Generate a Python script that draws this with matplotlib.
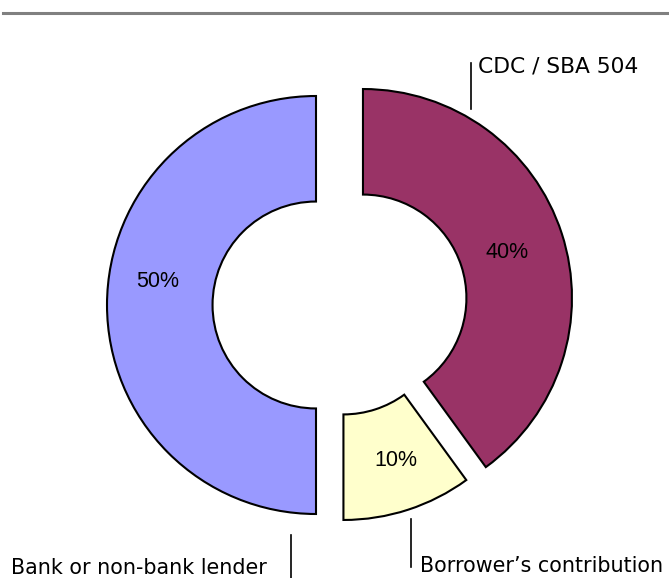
import matplotlib
matplotlib.use("Agg")
import matplotlib.pyplot as plt
from matplotlib.lines import Line2D

# slices, clockwise from 12 o'clock
names = ["CDC / SBA 504", "Borrower\u2019s contribution", "Bank or non-bank lender"]
shares = [40, 10, 50]
colors = ["#993366", "#FFFFCC", "#9999FF"]
explode = [0.108, 0.03, 0.122]
pct_labels = ["40%", "10%", "50%"]

W, H = 669, 578
fig = plt.figure(figsize=(W / 100, H / 100), dpi=100)
ax = fig.add_axes([0, 0, 1, 1])

wedges, _ = ax.pie(shares, colors=colors, explode=explode, startangle=90,
                   counterclock=False, radius=1.0,
                   wedgeprops=dict(width=0.505, edgecolor="black", linewidth=1.5))

# pixel geometry of the reference: centre at (341.5, 305), radius 209 px
R = 209.0
cx, cy = 341.5, 305.0
ax.set_xlim(-cx / R, (W - cx) / R)
ax.set_ylim(-(H - cy) / R, cy / R)
ax.set_aspect("auto")
ax.axis("off")


def px(x, y):
    # figure pixel (from top-left) -> figure fraction
    return x / W, 1 - y / H


# percentages inside the ring
pct_pos = [(507, 252), (396, 460), (158, 282)]
for t, (x, y) in zip(pct_labels, pct_pos):
    fig.text(*px(x, y), t, ha="center", va="center", fontsize=15.5,
             family="Liberation Sans", color="black")

# grey rule at the top
fig.add_artist(Line2D([3 / W, 1], [1 - 13 / H] * 2, color="#808080", lw=2.2,
                      transform=fig.transFigure))

# leader lines + category labels
leaders = [((471, 63), (471, 109)), ((411, 519), (411, 567)), ((291, 535), (291, 580))]
for (x0, y0), (x1, y1) in leaders:
    fig.add_artist(Line2D([x0 / W, x1 / W], [1 - y0 / H, 1 - y1 / H],
                          color="black", lw=1.2, transform=fig.transFigure))

lab_pos = [(478, 73), (420, 572), (11, 574)]
lab_size = [15.7, 14.9, 14.9]
for t, (x, y), s in zip(names, lab_pos, lab_size):
    fig.text(*px(x, y), t, ha="left", va="baseline", fontsize=s,
             family="DejaVu Sans", color="black")

fig.savefig("out.png", dpi=100)
